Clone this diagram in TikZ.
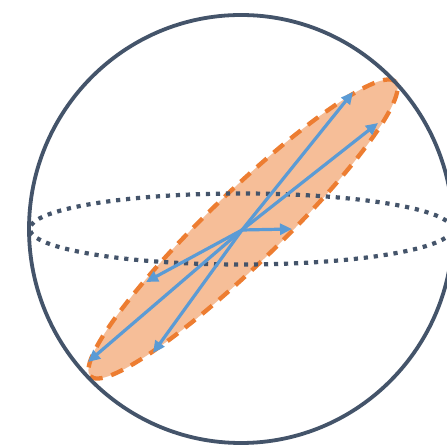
\documentclass[tikz,border=0pt]{standalone}
\usetikzlibrary{arrows.meta}
\definecolor{slate}{HTML}{44546A}
\definecolor{orng}{HTML}{ED7D31}
\definecolor{orngfill}{HTML}{F6BE98}
\definecolor{blu}{HTML}{5B9BD5}
\tikzset{
  sphere/.style={draw=slate, line width=3.8pt},
  equator/.style={draw=slate, line width=4.2pt, dash pattern=on 4.2pt off 5.8pt},
  disc/.style={draw=orng, fill=orngfill, line width=4.3pt, dash pattern=on 13pt off 9pt},
  vec/.style={draw=blu, line width=3.2pt, -{Triangle[length=12pt,width=11pt]}}
}
\begin{document}
\begin{tikzpicture}[x=1pt,y=1pt]
\useasboundingbox (0,0) rectangle (446,446);
\fill[white] (0,0) rectangle (446,446);
% orange tilted ellipse
\path[disc] (243,217) ellipse [x radius=212, y radius=36, rotate=44];
% dotted equator
\path[equator] (241,217) ellipse [x radius=211, y radius=35.5];
% sphere outline
\path[sphere] (241,217) ellipse [x radius=212, y radius=214];
% vectors
\coordinate (o) at (242,216);
\coordinate (t1) at (353,354);
\coordinate (t2) at (378,323);
\coordinate (t3) at (292,217);
\coordinate (t4) at (146,164);
\coordinate (t5) at (88,84);
\coordinate (t6) at (153,93);
\foreach \t in {t1,t2,t3,t4,t5,t6} \draw[vec] (o) -- (\t);
\end{tikzpicture}
\end{document}
